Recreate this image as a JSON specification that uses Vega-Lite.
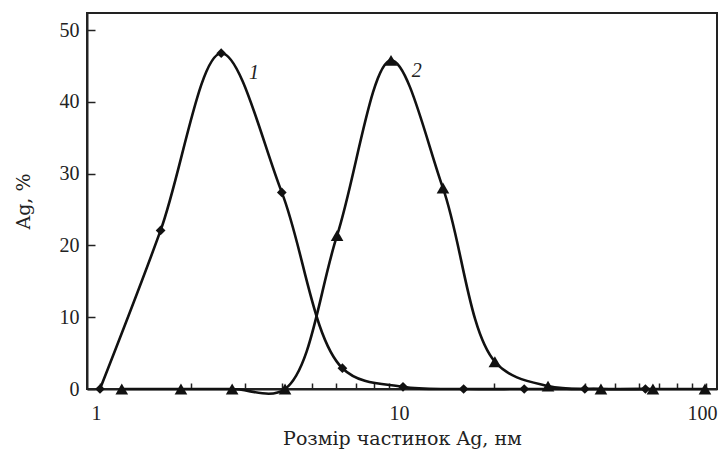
{
  "$schema": "https://vega.github.io/schema/vega-lite/v6.json",
  "width": 630,
  "height": 376,
  "autosize": "none",
  "padding": {"left": 87, "top": 13, "right": 2, "bottom": 68},
  "background": "white",
  "config": {
    "view": {"stroke": "#222", "strokeWidth": 2},
    "axis": {
      "grid": false,
      "domainColor": "#222",
      "domainWidth": 2,
      "tickColor": "#222",
      "tickWidth": 1.5,
      "labelFont": "Liberation Serif",
      "labelFontSize": 20,
      "labelColor": "#222",
      "titleFont": "DejaVu Serif",
      "titleFontSize": 19,
      "titleFontWeight": "normal",
      "titleColor": "#222"
    }
  },
  "datasets": {
    "pts": [
      {"size": 1.0, "pct": 0, "curve": "1"},
      {"size": 1.585, "pct": 22.1, "curve": "1"},
      {"size": 2.512, "pct": 46.8, "curve": "1"},
      {"size": 3.981, "pct": 27.4, "curve": "1"},
      {"size": 6.31, "pct": 2.9, "curve": "1"},
      {"size": 10.0, "pct": 0.3, "curve": "1"},
      {"size": 15.85, "pct": 0, "curve": "1"},
      {"size": 25.12, "pct": 0, "curve": "1"},
      {"size": 39.81, "pct": 0, "curve": "1"},
      {"size": 63.1, "pct": 0, "curve": "1"},
      {"size": 1.18, "pct": 0, "curve": "2"},
      {"size": 1.85, "pct": 0, "curve": "2"},
      {"size": 2.73, "pct": 0, "curve": "2"},
      {"size": 4.08, "pct": 0, "curve": "2"},
      {"size": 6.06, "pct": 21.4, "curve": "2"},
      {"size": 9.13, "pct": 45.8, "curve": "2"},
      {"size": 13.55, "pct": 28.0, "curve": "2"},
      {"size": 20.1, "pct": 3.8, "curve": "2"},
      {"size": 30.1, "pct": 0.4, "curve": "2"},
      {"size": 45.0, "pct": 0, "curve": "2"},
      {"size": 66.8, "pct": 0, "curve": "2"},
      {"size": 99.2, "pct": 0, "curve": "2"}
    ],
    "labels": [
      {"size": 3.22, "pct": 44.0, "text": "1"},
      {"size": 11.1, "pct": 44.3, "text": "2"}
    ]
  },
  "encoding": {
    "x": {
      "field": "size",
      "type": "quantitative",
      "scale": {"type": "log", "domain": [0.906, 108.7], "nice": false},
      "axis": {
        "title": "Розмір частинок Ag, нм",
        "values": [1, 2, 3, 4, 5, 6, 7, 8, 9, 10, 20, 30, 40, 50, 60, 70, 80, 90, 100],
        "labelExpr": "datum.value == 1 || datum.value == 10 || datum.value == 100 ? format(datum.value, 'd') : ''",
        "tickSize": -6,
        "labelPadding": 20,
        "labelOffset": -4,
        "titlePadding": 6,
        "labelFlush": false
      }
    },
    "y": {
      "field": "pct",
      "type": "quantitative",
      "scale": {"domain": [0, 52.4], "nice": false, "zero": false},
      "axis": {
        "title": "Ag, %",
        "values": [0, 10, 20, 30, 40, 50],
        "tickSize": -8,
        "labelPadding": 16,
        "titlePadding": 26,
        "labelFlush": false
      }
    }
  },
  "layer": [
    {
      "data": {"name": "pts"},
      "mark": {"type": "line", "interpolate": "catmull-rom", "color": "#111", "strokeWidth": 2.6, "clip": false},
      "encoding": {"detail": {"field": "curve", "type": "nominal"}}
    },
    {
      "data": {"name": "pts"},
      "mark": {"type": "point", "filled": true, "color": "#111", "opacity": 1, "clip": false},
      "encoding": {
        "shape": {
          "field": "curve",
          "type": "nominal",
          "scale": {"domain": ["1", "2"], "range": ["diamond", "triangle-up"]},
          "legend": null
        },
        "size": {
          "field": "curve",
          "type": "nominal",
          "scale": {"domain": ["1", "2"], "range": [95, 160]},
          "legend": null
        }
      }
    },
    {
      "data": {"name": "labels"},
      "mark": {"type": "text", "font": "Liberation Serif", "fontStyle": "italic", "fontSize": 20, "color": "#222"},
      "encoding": {"text": {"field": "text", "type": "nominal"}}
    }
  ]
}
